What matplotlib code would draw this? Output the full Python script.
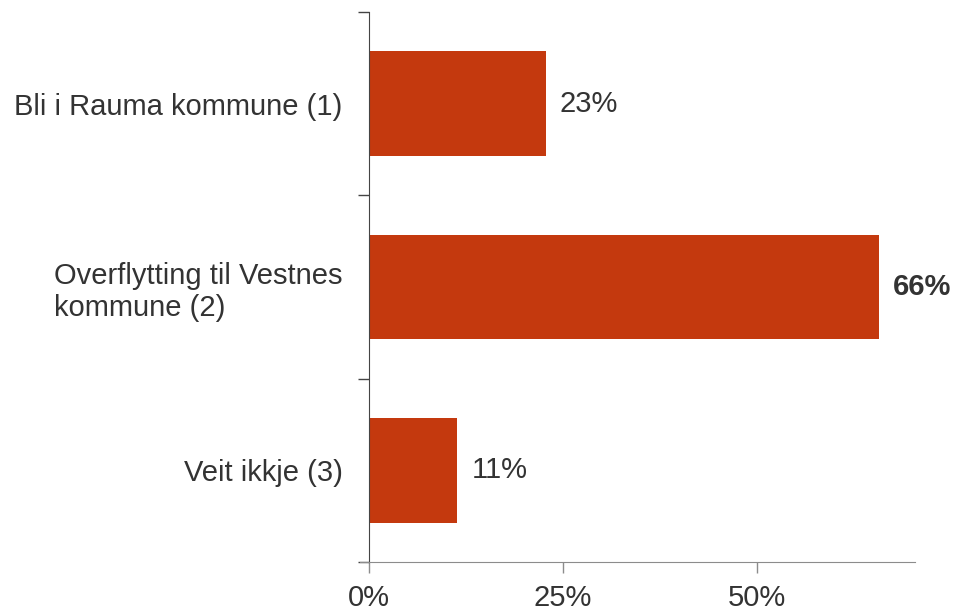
import matplotlib
matplotlib.use('Agg')
import matplotlib.pyplot as plt
import numpy as np

plt.rcParams['font.family'] = ['Liberation Sans', 'DejaVu Sans']

categories = ['Bli i Rauma kommune (1)', 'Overflytting til Vestnes\nkommune (2)', 'Veit ikkje (3)']
values = [22.8, 65.7, 11.4]
value_labels = ['23%', '66%', '11%']
bold_label = [False, True, False]
x_ticks = [0, 25, 50]
x_tick_labels = ['0%', '25%', '50%']

bar_color = '#C4390E'
text_color = '#333333'

fig = plt.figure(figsize=(9.59, 6.10), dpi=100)
ax = fig.add_axes([360 / 959, 1 - 562 / 610, (915 - 360) / 959, (562 - 12) / 610])

y = np.arange(len(categories))
ax.barh(y, values, height=0.57, color=bar_color, zorder=2)

for yi, v, lab, b in zip(y, values, value_labels, bold_label):
    ax.text(v + 1.8, yi, lab, va='center', ha='left', fontsize=21,
            color=text_color, fontweight='bold' if b else 'normal')

ax.set_xlim(-1.16, 70.4)
ax.set_ylim(2.5, -0.5)

# y axis: spine at 0, ticks on category boundaries
ax.spines['left'].set_position(('data', 0))
ax.spines['left'].set_color('#444444')
ax.spines['bottom'].set_color('#8c8c8c')
ax.spines['top'].set_visible(False)
ax.spines['right'].set_visible(False)

ax.set_yticks([-0.5, 0.5, 1.5, 2.5])
ax.set_yticklabels([])
ax.set_yticks(y, minor=True)
ax.set_yticklabels(categories, minor=True, fontsize=21, color=text_color)
for t in ax.get_yticklabels(minor=True):
    t.set_multialignment('left')
ax.tick_params(axis='y', which='major', length=8, width=1, color='#444444', direction='out')
ax.tick_params(axis='y', which='minor', length=0, pad=19)

ax.set_xticks(x_ticks)
ax.set_xticklabels(x_tick_labels, fontsize=21, color=text_color)
ax.tick_params(axis='x', length=8, width=1, color='#8c8c8c', pad=8)

fig.savefig('out.png', dpi=100)
